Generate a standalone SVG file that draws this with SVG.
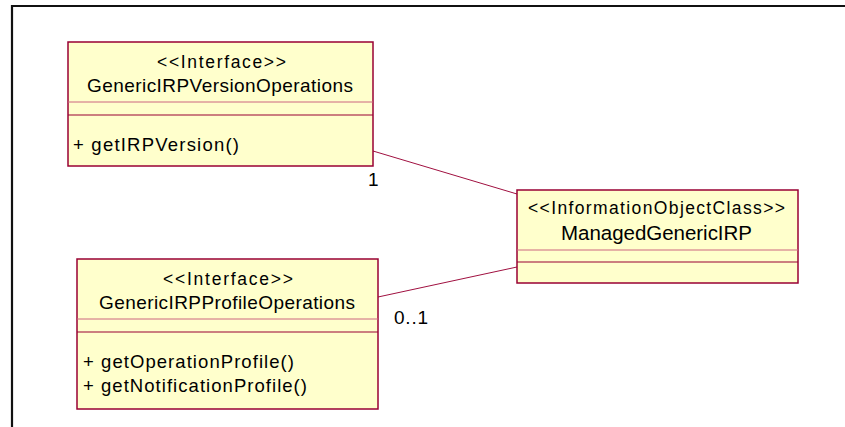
<svg xmlns="http://www.w3.org/2000/svg" width="845" height="427" viewBox="0 0 845 427">
<style>
.frame{fill:none;stroke:#111;stroke-width:2.2}
.box{fill:#FFFFCC;stroke:#990033;stroke-width:1.5}
.div1{stroke:#CC6680;stroke-width:1}
.div2{stroke:#990033;stroke-width:1.2}
.conn{fill:none;stroke:#A01040;stroke-width:1}
text{font-family:"Liberation Sans",Arial,sans-serif;fill:#000}
.st{font-size:17.5px}
.nm{font-size:19px}
.nm2{font-size:20.5px}
.op{font-size:18.5px}
.mul{font-size:19px}
</style>
<rect x="0" y="0" width="845" height="427" fill="#fff"/>
<path class="frame" d="M12,427 V6 H845"/>
<g id="connectors">
<line class="conn" x1="373" y1="151" x2="517" y2="194"/>
<line class="conn" x1="378" y1="297" x2="517" y2="267"/>
<text class="mul" x="368" y="186" textLength="10" lengthAdjust="spacing">1</text>
<text class="mul" x="394" y="324" textLength="34" lengthAdjust="spacing">0..1</text>
</g>
<g id="GenericIRPVersionOperations">
<rect class="box" x="68" y="42" width="305" height="124"/>
<line class="div1" x1="68" y1="102" x2="373" y2="102"/>
<line class="div2" x1="68" y1="115" x2="373" y2="115"/>
<text class="st" x="157" y="68" textLength="129" lengthAdjust="spacing">&lt;&lt;Interface&gt;&gt;</text>
<text class="nm" x="87" y="92" textLength="266" lengthAdjust="spacing">GenericIRPVersionOperations</text>
<text class="op" x="73" y="151" textLength="166" lengthAdjust="spacing">+ getIRPVersion()</text>
</g>
<g id="GenericIRPProfileOperations">
<rect class="box" x="77" y="259" width="301" height="150"/>
<line class="div1" x1="77" y1="319" x2="378" y2="319"/>
<line class="div2" x1="77" y1="332" x2="378" y2="332"/>
<text class="st" x="163" y="285" textLength="130" lengthAdjust="spacing">&lt;&lt;Interface&gt;&gt;</text>
<text class="nm" x="99" y="309" textLength="256" lengthAdjust="spacing">GenericIRPProfileOperations</text>
<text class="op" x="83" y="368" textLength="211" lengthAdjust="spacing">+ getOperationProfile()</text>
<text class="op" x="83" y="392" textLength="224" lengthAdjust="spacing">+ getNotificationProfile()</text>
</g>
<g id="ManagedGenericIRP">
<rect class="box" x="517" y="190" width="281" height="93"/>
<line class="div1" x1="517" y1="250" x2="798" y2="250"/>
<line class="div2" x1="517" y1="262" x2="798" y2="262"/>
<text class="st" x="528" y="214" textLength="257" lengthAdjust="spacing">&lt;&lt;InformationObjectClass&gt;&gt;</text>
<text class="nm2" x="561" y="240" textLength="191" lengthAdjust="spacing">ManagedGenericIRP</text>
</g>
</svg>
